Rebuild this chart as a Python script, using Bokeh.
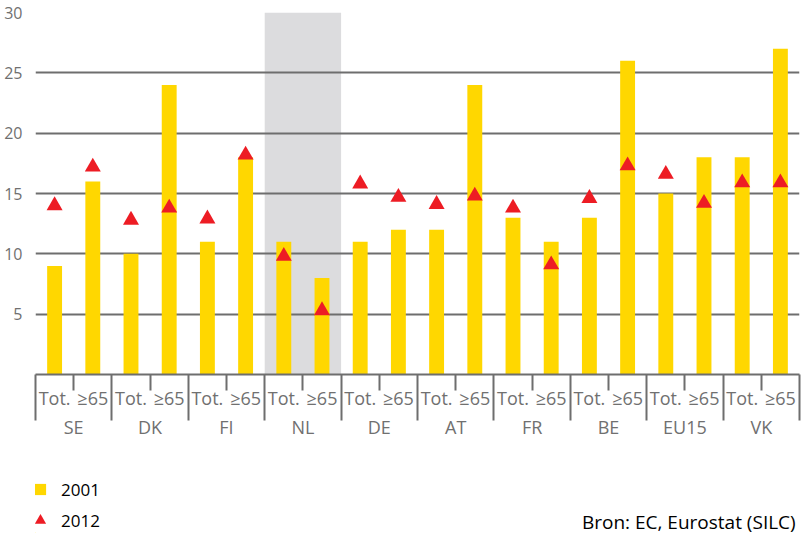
from bokeh.plotting import figure
from bokeh.layouts import column
from bokeh.models import (Range1d, LinearAxis, FixedTicker, Legend, LegendItem, Label,
                          ColumnDataSource, CustomLabelingPolicy)
from bokeh.embed import file_html
from bokeh.resources import INLINE

countries = ["SE", "DK", "FI", "NL", "DE", "AT", "FR", "BE", "EU15", "VK"]
groups = ["Tot.", "≥65"]
v2001 = [9, 16, 10, 24, 11, 18, 11, 8, 11, 12, 12, 24, 13, 11, 13, 26, 15, 18, 18, 27]
v2012 = [14.0, 17.2, 12.8, 13.8, 12.9, 18.2, 9.8, 5.3, 15.8, 14.7,
         14.1, 14.8, 13.8, 9.1, 14.6, 17.3, 16.6, 14.2, 15.9, 15.9]
y_ticks = [5, 10, 15, 20, 25, 30]
highlight = "NL"
series_names = ["2001", "2012"]
source_text = "Bron: EC, Eurostat (SILC)"

GREY = "#6e6e6e"
TXT = "#707070"
YELLOW = "#ffd700"
RED = "#ed1c24"
FONT = "Open Sans"

ng = len(groups)
n = len(countries) * ng
# slot centres on a linear x scale: one unit per (country, group) slot
xs = [ci * ng + gi + 0.5 for ci in range(len(countries)) for gi in range(ng)]
src = ColumnDataSource(dict(x=xs, v2001=v2001, v2012=v2012))

p = figure(width=802, height=450, x_range=Range1d(0, n), y_range=Range1d(0, 30),
           output_backend="svg", toolbar_location=None, x_axis_location=None,
           min_border_left=35, min_border_right=3, min_border_top=12, min_border_bottom=76)
p.outline_line_color = None
p.background_fill_color = "white"
p.xgrid.visible = False

p.yaxis.ticker = FixedTicker(ticks=y_ticks)
p.yaxis.axis_line_color = None
p.yaxis.major_tick_line_color = None
p.yaxis.minor_tick_line_color = None
p.yaxis.major_label_text_font = FONT
p.yaxis.major_label_text_font_size = "16px"
p.yaxis.major_label_text_color = TXT
p.yaxis.major_label_standoff = 7
p.ygrid.ticker = FixedTicker(ticks=y_ticks)
p.ygrid.grid_line_color = GREY
p.ygrid.grid_line_width = 2

# highlight band
hi = countries.index(highlight)
p.vbar(x=[hi * ng + ng / 2], top=[30], bottom=[0], width=ng,
       fill_color="#dcdcde", line_color=None, level="image")

p.vbar(x="x", top="v2001", width=0.39, source=src, fill_color=YELLOW, line_color=None)
p.scatter(x="x", y="v2012", marker="triangle", size=16, source=src,
          fill_color=RED, line_color=None)

# boundary ticks: long between countries, short between groups (no labels)
no_labels = CustomLabelingPolicy(code="for (const i of [...indices]) indices.unset(i)")
tick_axis = LinearAxis(ticker=FixedTicker(ticks=list(range(0, n + 1, ng)),
                                          minor_ticks=[t for t in range(0, n + 1) if t % ng]),
                       major_tick_in=-46, major_tick_out=0,
                       minor_tick_in=-16, minor_tick_out=0,
                       major_label_policy=no_labels,
                       major_label_text_font_size="1px", major_label_standoff=0,
                       axis_line_color=GREY, axis_line_width=2,
                       major_tick_line_color=GREY, major_tick_line_width=2,
                       minor_tick_line_color=GREY, minor_tick_line_width=2)
p.add_layout(tick_axis, "below")

sub_axis = LinearAxis(ticker=FixedTicker(ticks=xs, minor_ticks=[]),
                      major_label_overrides={x: groups[i % ng] for i, x in enumerate(xs)},
                      axis_line_color=None, major_tick_line_color=None,
                      minor_tick_line_color=None, major_tick_out=0, major_tick_in=0,
                      major_label_text_font=FONT, major_label_text_font_size="18px",
                      major_label_text_color=TXT, major_label_standoff=7)
p.add_layout(sub_axis, "below")

cx = [ci * ng + ng / 2 for ci in range(len(countries))]
country_axis = LinearAxis(ticker=FixedTicker(ticks=cx, minor_ticks=[]),
                          major_label_overrides={x: c for x, c in zip(cx, countries)},
                          axis_line_color=None, major_tick_line_color=None,
                          minor_tick_line_color=None, major_tick_out=0, major_tick_in=0,
                          major_label_text_font=FONT, major_label_text_font_size="18px",
                          major_label_text_color=TXT, major_label_standoff=2)
p.add_layout(country_axis, "below")

# footer: legend + source
f = figure(width=802, height=83, x_range=Range1d(0, 802), y_range=Range1d(0, 83),
           output_backend="svg", toolbar_location=None, x_axis_location=None,
           y_axis_location=None, min_border=0)
f.outline_line_color = None
f.xgrid.visible = False
f.ygrid.visible = False
# off-screen proxies that give the legend its glyph styles
r1 = f.vbar(x=[-1000], top=[1], width=1, fill_color=YELLOW, line_color=None)
r2 = f.scatter(x=[-1000], y=[1], marker="triangle", size=16, fill_color=RED, line_color=None)

common = dict(orientation="vertical", label_height=14, padding=0, margin=0,
              border_line_color=None, background_fill_alpha=0, label_text_font=FONT,
              label_text_font_size="17px", label_text_color="black")
leg1 = Legend(items=[LegendItem(label=series_names[0], renderers=[r1])],
              location=(-2, 32.5), glyph_width=14, glyph_height=14, label_standoff=14,
              **common)
leg2 = Legend(items=[LegendItem(label=series_names[1], renderers=[r2])],
              location=(-9, -1), glyph_width=28, glyph_height=28, label_standoff=7,
              **common)
f.add_layout(leg1)
f.add_layout(leg2)
f.add_layout(Label(x=798, y=12, text=source_text,
                   text_align="right", text_baseline="middle", text_font=FONT,
                   text_font_size="19px", text_color="black"))

layout = column(p, f, spacing=0)
open("out.html", "w").write(file_html(layout, INLINE))
